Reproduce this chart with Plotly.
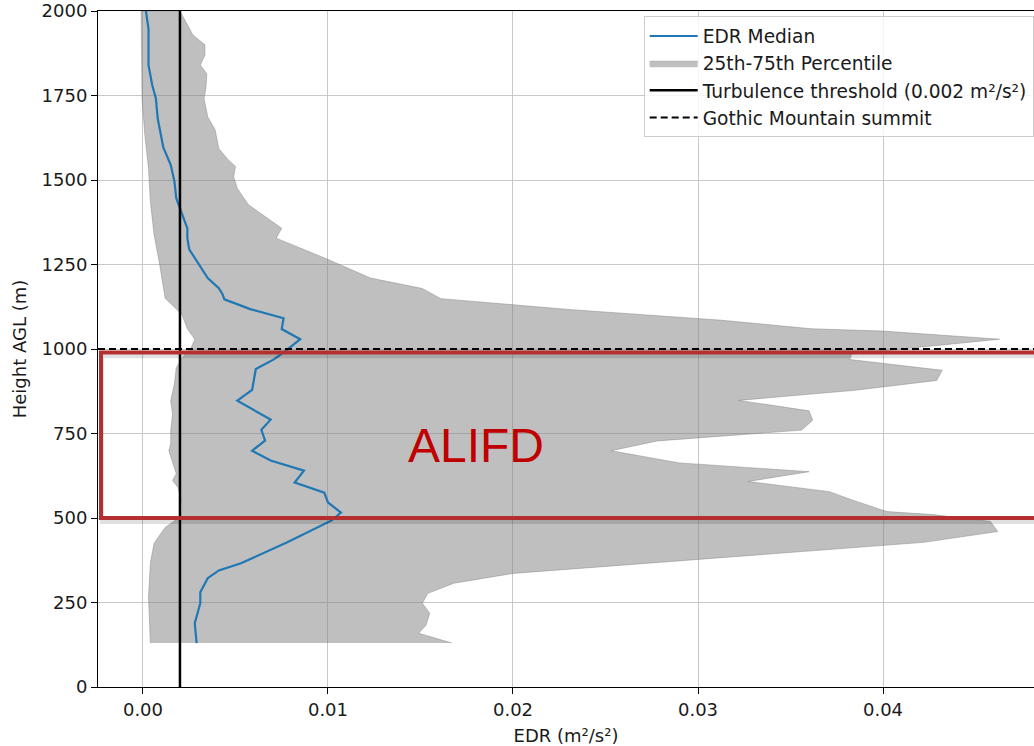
import plotly.graph_objects as go

# ---------------- data ----------------
# 75th percentile (right edge of band), bottom -> top
h75 = [130, 159, 183, 218, 248, 277, 307, 336, 377, 428, 460, 490, 510, 519, 552, 578,
       608, 637, 663, 699, 728, 760, 789, 817, 848, 878, 907, 937, 969, 985, 1029, 1053,
       1060, 1085, 1117, 1149, 1179, 1210, 1265, 1328, 1357, 1383, 1427, 1475, 1510,
       1540, 1560, 1593, 1649, 1687, 1741, 1770, 1814, 1840, 1870, 1900, 1929, 2000]
p75 = [0.0167, 0.0149, 0.0153, 0.0155, 0.0151, 0.0154, 0.0168, 0.0200, 0.0301, 0.0422,
       0.0462, 0.0458, 0.0427, 0.0402, 0.0384, 0.0371, 0.0327, 0.0360, 0.0290, 0.0253,
       0.0278, 0.0356, 0.0362, 0.0360, 0.0322, 0.0385, 0.0429, 0.0432, 0.0382, 0.0383,
       0.0463, 0.0400, 0.0361, 0.0313, 0.0230, 0.0161, 0.0151, 0.0123, 0.0100, 0.0072,
       0.0075, 0.0068, 0.0057, 0.0051, 0.0049, 0.0050, 0.0046, 0.0041, 0.0039, 0.0035,
       0.0033, 0.0034, 0.00345, 0.0031, 0.00335, 0.00335, 0.0027, 0.0020]

# 25th percentile (left edge of band), bottom -> top
h25 = [130, 266, 366, 425, 472, 499, 522, 543, 590, 611, 631, 699, 720, 758, 808, 847,
       897, 944, 973, 1003, 1029, 1060, 1103, 1150, 1251, 1339, 1437, 1535, 1634, 1741, 2000]
p25 = [0.0004, 0.0003, 0.0004, 0.0006, 0.0012, 0.0019, 0.0021, 0.0021, 0.0019, 0.0016,
       0.0018, 0.0014, 0.0015, 0.0015, 0.0016, 0.0015, 0.0017, 0.0018, 0.0021, 0.0026,
       0.0028, 0.0024, 0.0021, 0.0012, 0.0009, 0.0006, 0.0004, 0.0003, 0.0001, -0.00005,
       -0.0001]

# Median EDR, bottom -> top
h_med = [130, 189, 248, 280, 322, 345, 366, 428, 493, 516, 546, 575, 605, 640, 670, 699,
         729, 761, 791, 847, 879, 941, 970, 994, 1029, 1059, 1091, 1118, 1147, 1162, 1180,
         1210, 1295, 1328, 1357, 1416, 1446, 1496, 1545, 1596, 1622, 1681, 1741, 1781,
         1840, 1947, 2000]
med = [0.0029, 0.0028, 0.0031, 0.0031, 0.0035, 0.0041, 0.0053, 0.0078, 0.0102, 0.0107,
       0.0100, 0.0098, 0.0082, 0.0087, 0.0069, 0.0059, 0.0066, 0.0064, 0.0069, 0.0051,
       0.0059, 0.0061, 0.0071, 0.0077, 0.0085, 0.0075, 0.0076, 0.0058, 0.0044, 0.0043,
       0.0041, 0.0035, 0.0025, 0.0024, 0.0024, 0.0020, 0.0018, 0.0017, 0.0015, 0.0011,
       0.0010, 0.0008, 0.0007, 0.0005, 0.0003, 0.0003, 0.00016]

THRESHOLD = 0.002      # m^2/s^2
SUMMIT = 1000          # m AGL
ALIFD_BOTTOM, ALIFD_TOP = 500, 990

X_RANGE = [-0.00243, 0.04816]
Y_RANGE = [0, 2000]
y_ticks = [0, 250, 500, 750, 1000, 1250, 1500, 1750, 2000]
x_ticks = [0.00, 0.01, 0.02, 0.03, 0.04]

FONT = "DejaVu Sans"
TXT = "#1a1a1a"

fig = go.Figure()

# percentile band
fig.add_trace(go.Scatter(
    x=p25 + p75[::-1], y=h25 + h75[::-1],
    fill="toself", mode="lines",
    fillcolor="rgba(128,128,128,0.5)",
    line=dict(color="rgba(128,128,128,0.45)", width=1),
    name="25th-75th Percentile", legendrank=2, legendgroup="b",
))
# median
fig.add_trace(go.Scatter(
    x=med, y=h_med, mode="lines",
    line=dict(color="#1f77b4", width=2.2),
    name="EDR Median", legendrank=1, legendgroup="a",
))
# threshold
fig.add_trace(go.Scatter(
    x=[THRESHOLD, THRESHOLD], y=Y_RANGE, mode="lines",
    line=dict(color="black", width=2.5),
    name="Turbulence threshold (0.002 m²/s²)", legendrank=3, legendgroup="c",
))
# summit
fig.add_trace(go.Scatter(
    x=[X_RANGE[0], X_RANGE[1] + 0.01], y=[SUMMIT, SUMMIT], mode="lines",
    line=dict(color="black", width=2, dash="7px,4px"),
    name="Gothic Mountain summit", legendrank=4, legendgroup="d",
))

# ALIFD box (soft shadow + box)
px_x = (X_RANGE[1] - X_RANGE[0]) / 936.0
px_y = (Y_RANGE[1] - Y_RANGE[0]) / 678.0
fig.add_shape(type="rect", xref="x", yref="y",
              x0=X_RANGE[0] + 4 * px_x, x1=X_RANGE[1] + 0.01,
              y0=ALIFD_BOTTOM - 4 * px_y, y1=ALIFD_TOP - 4 * px_y,
              line=dict(color="rgba(0,0,0,0.12)", width=4), layer="above")
fig.add_shape(type="rect", xref="x", yref="y",
              x0=X_RANGE[0] + 3 * px_x, x1=X_RANGE[1] + 0.01,
              y0=ALIFD_BOTTOM, y1=ALIFD_TOP,
              line=dict(color="#b43030", width=4), layer="above")

fig.add_annotation(x=0.018, y=(ALIFD_BOTTOM + ALIFD_TOP) / 2 - 30, xref="x", yref="y",
                   text="ALIFD", showarrow=False,
                   font=dict(family="Liberation Sans", size=48, color="#c00000"))

fig.update_layout(
    width=1034, height=746,
    margin=dict(l=98, r=0, t=9, b=59),
    paper_bgcolor="white", plot_bgcolor="white",
    font=dict(family=FONT, size=18, color=TXT),
    showlegend=True,
    legend=dict(
        x=0.583, y=0.992, xanchor="left", yanchor="top",
        bgcolor="rgba(255,255,255,0.8)", bordercolor="#cccccc", borderwidth=1,
        font=dict(family=FONT, size=18.6, color=TXT),
        itemwidth=48, tracegroupgap=0, traceorder="grouped",
    ),
)
fig.update_xaxes(
    range=X_RANGE, tickvals=x_ticks, tickformat=".2f",
    showgrid=True, gridcolor="#c8c8c8", gridwidth=1, zeroline=False,
    showline=True, linecolor="black", linewidth=1, mirror=True,
    ticks="outside", ticklen=6, tickcolor="black", ticklabeloverflow="allow",
    title=dict(text="EDR (m²/s²)", font=dict(family=FONT, size=18), standoff=11),
    tickfont=dict(family=FONT, size=18, color=TXT),
)
fig.update_yaxes(
    range=Y_RANGE, tickvals=y_ticks,
    showgrid=True, gridcolor="#c8c8c8", gridwidth=1, zeroline=False,
    showline=True, linecolor="black", linewidth=1,
    ticks="outside", ticklen=6, tickcolor="black", ticklabeloverflow="allow",
    title=dict(text="Height AGL (m)", font=dict(family=FONT, size=18), standoff=10),
    tickfont=dict(family=FONT, size=18, color=TXT),
)

fig.write_html("out.html")
